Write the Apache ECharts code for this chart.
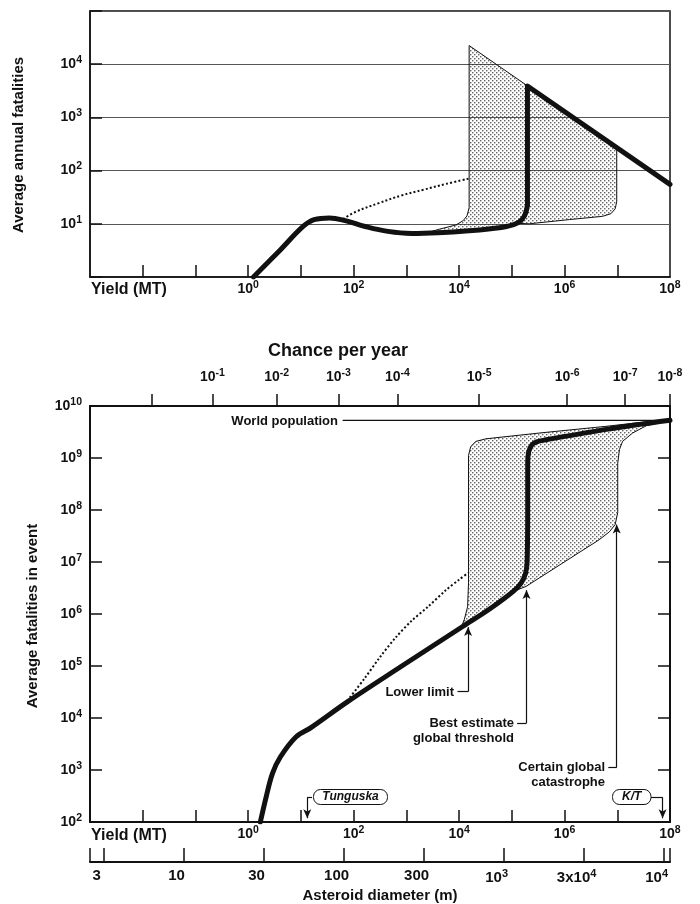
<!DOCTYPE html>
<html>
<head>
<meta charset="utf-8">
<script src="https://cdn.jsdelivr.net/npm/echarts/dist/echarts.min.js"></script>
<style>
  html, body { margin: 0; padding: 0; background: #ffffff; }
  #chart { width: 700px; height: 904px; }
</style>
</head>
<body>
<div id="chart"></div>
<script>
// ---------------- DATA (yield in MT, fatalities in persons) ----------------
// Top panel: average annual fatalities vs yield
const TOP_MAIN_CURVE = [[1.26,1.0],[3.98,3.16],[11.0,8.91],[17.8,12.0],[34.7,12.9],[69.2,11.5],[166,8.9],[447,7.2],[1260,6.6],[3980,6.8],[15500,7.4],[39800,8.1],[79400,8.9],[132000,10.5],[174000,14.1],[198000,22.4]];
const TOP_MAIN_STEP = [[198000,22.4],[198000,3890],[1e8,55]];
const TOP_DOTTED = [[63.1,12.3],[112,17.0],[302,24.5],[794,33.9],[2090,43.6],[5620,56.2],[15500,70.8]];
const TOP_SHADE = [[2510,6.8],[4170,7.9],[8710,9.5],[12000,11.5],[14100,14.1],[15500,20],[15500,22400],[200000,3890],[9.77e6,269],[9.77e6,26.3],[9.12e6,19.1],[7.59e6,15.5],[5.25e6,13.8],[1.23e6,12.0],[214000,10.0],[132000,10.2],[100000,8.9],[39800,8.1],[15500,7.4],[6310,6.9]];

// Bottom panel: average fatalities in event vs yield
const BOTTOM_MAIN = [[1.70,100],[2.19,302],[2.88,851],[4.07,1780],[8.13,4370],[15.8,6610],[75.9,20400],[794,97700],[11700,575000],[39800,1290000],[105000,2690000],[151000,3980000],[182000,6030000],[195000,1.0e7],[200000,1e8],[200000,7.94e8],[209000,1.32e9],[240000,1.78e9],[295000,2.04e9],[447000,2.24e9],[6.17e6,3.55e9],[1e8,5.3e9]];
const BOTTOM_DOTTED = [[75.9,21400],[158,56200],[316,148000],[631,355000],[1260,741000],[2510,1.35e6],[5620,2.88e6],[10000,4.57e6],[14800,6.17e6]];
const BOTTOM_SHADE = [[11000,550000],[12600,794000],[14500,1.38e6],[15100,3.98e6],[15100,1.12e9],[16600,1.66e9],[20900,2.09e9],[32400,2.34e9],[331000,3.02e9],[6.17e6,4.07e9],[4.68e7,5.13e9],[1e8,5.3e9],[3.55e7,4.17e9],[1.95e7,3.02e9],[1.26e7,2.09e9],[1.10e7,1.45e9],[1.02e7,7.94e8],[1.02e7,8.91e7],[9.12e6,5.25e7],[7.08e6,3.80e7],[4.57e6,2.69e7],[186000,3.39e6],[105000,2.69e6],[39800,1.29e6]];
const WORLD_POP = 5.3e9;
const WORLD_POP_START = 63;

// Axes
const YIELD_TICKS = [1e-2,1e-1,1,10,100,1e3,1e4,1e5,1e6,1e7];
const YIELD_LABELS = [1,100,1e4,1e6,1e8];
const CHANCE_TICK_YIELD = [0.0148,0.209,3.47,51.3,676,24000,1.12e6,1.41e7,1e8];
const CHANCE_EXPONENTS = ['','-1','-2','-3','-4','-5','-6','-7','-8'];
const DIAM_TICKS = [-0.17,0,1,2,3,4,5,6,7,7.08];
const DIAM_LABEL_POS = [0,1,2,3,4,5,6,7];
const DIAM_LABELS = ['3','10','30','100','300','10^3','3x10^4','10^4'];

// Annotation arrows (yield, fatalities)
const ARROW_LOWER = {bracket:[[9330,32000],[14800,32000]], arrow:[[14800,32000],[14800,5.6e5]]};
const ARROW_BEST = {bracket:[[126000,7940],[190000,7940]], arrow:[[190000,7940],[190000,2.88e6]]};
const ARROW_CERTAIN = {bracket:[[6.76e6,1120],[9.77e6,1120]], arrow:[[9.77e6,1120],[9.77e6,5.25e7]]};
const ARROW_TUNGUSKA = {bracket:[[16.3,299],[13.2,299]], arrow:[[13.2,299],[13.2,118]]};
const ARROW_KT = {bracket:[[4.27e7,299],[7.24e7,299]], arrow:[[7.24e7,299],[7.24e7,118]]};

// ---------------- STYLE ----------------
const FONT = "'Liberation Sans', Arial, Helvetica, sans-serif";
const INK = '#111111';

function stipple() {
  const c = document.createElement('canvas');
  c.width = 4; c.height = 4;
  const g = c.getContext('2d');
  g.fillStyle = '#2a2a2a';
  [[0.8,0.8],[2.8,2.8]].forEach(p => { g.beginPath(); g.arc(p[0], p[1], 0.68, 0, Math.PI*2); g.fill(); });
  return {image: c, repeat: 'repeat'};
}
const PATTERN = stipple();

const RICH = {
  b: {fontFamily: FONT, fontSize: 14, fontWeight: 'bold', color: INK},
  s: {fontFamily: FONT, fontSize: 10.5, fontWeight: 'bold', color: INK, padding: [0,0,8,0]}
};
const RICH_BIG = {
  b: {fontFamily: FONT, fontSize: 15, fontWeight: 'bold', color: INK},
  s: {fontFamily: FONT, fontSize: 11, fontWeight: 'bold', color: INK, padding: [0,0,8,0]}
};
function powText(e) { return '{b|10}{s|' + e + '}'; }
function exp10(v) { return Math.round(Math.log10(v)); }
function richFrom(str) {
  const i = str.indexOf('^');
  if (i < 0) return '{b|' + str + '}';
  return '{b|' + str.slice(0, i) + '}{s|' + str.slice(i + 1) + '}';
}

function shadeSeries(points, xi, yi) {
  return {
    type: 'custom', xAxisIndex: xi, yAxisIndex: yi, silent: true, z: 1,
    data: [points[0]],
    renderItem: function (params, api) {
      const pts = points.map(p => api.coord(p));
      return {type: 'polygon', shape: {points: pts},
        style: {fill: PATTERN, stroke: INK, lineWidth: 1}};
    }
  };
}
function lineSeries(data, xi, yi, width, opts) {
  return Object.assign({
    type: 'line', xAxisIndex: xi, yAxisIndex: yi, data: data, showSymbol: false, symbol: 'none',
    silent: true, z: 3, lineStyle: {color: INK, width: width, cap: 'round', join: 'round'}
  }, opts || {});
}
function arrowLines(a) {
  return [
    [{coord: a.bracket[0], symbol: 'none'}, {coord: a.bracket[1], symbol: 'none'}],
    [{coord: a.arrow[0], symbol: 'none'}, {coord: a.arrow[1], symbol: 'arrow'}]
  ];
}

const chart = echarts.init(document.getElementById('chart'));

function yieldAxis(grid) {
  return {
    type: 'log', logBase: 10, gridIndex: grid, min: 1e-3, max: 1e8, position: 'bottom',
    axisLine: {onZero: false, lineStyle: {color: INK, width: 1.5}},
    axisTick: {inside: true, length: 12, customValues: YIELD_TICKS, lineStyle: {color: INK, width: 1.5}},
    axisLabel: {customValues: YIELD_LABELS, margin: 3, rich: RICH, formatter: v => powText(exp10(v))},
    splitLine: {show: false}
  };
}

const option = {
  animation: false,
  backgroundColor: '#ffffff',
  grid: [
    {left: 90, top: 11, width: 580, height: 266, show: true, borderColor: INK, borderWidth: 1.5},
    {left: 90, top: 406, width: 580, height: 416, show: true, borderColor: INK, borderWidth: 2}
  ],
  xAxis: [
    yieldAxis(0),
    yieldAxis(1),
    { // chance per year (top of lower panel)
      type: 'log', logBase: 10, gridIndex: 1, min: 1e-3, max: 1e8, position: 'top',
      axisLine: {onZero: false, lineStyle: {color: INK, width: 2}},
      axisTick: {inside: false, length: 12, customValues: CHANCE_TICK_YIELD, lineStyle: {color: INK, width: 1.5}},
      axisLabel: {customValues: CHANCE_TICK_YIELD.slice(1), margin: 19, rich: RICH,
        formatter: v => {
          let best = 0, d = 1e9;
          CHANCE_TICK_YIELD.forEach((t, i) => { const dd = Math.abs(Math.log10(t) - Math.log10(v)); if (dd < d) { d = dd; best = i; } });
          return powText(CHANCE_EXPONENTS[best]);
        }},
      splitLine: {show: false}
    },
    { // asteroid diameter
      type: 'value', gridIndex: 1, min: -0.17, max: 7.08, position: 'bottom', offset: 40,
      axisLine: {onZero: false, lineStyle: {color: INK, width: 2}},
      axisTick: {inside: true, length: 14, customValues: DIAM_TICKS, lineStyle: {color: INK, width: 1.5}},
      axisLabel: {customValues: DIAM_LABEL_POS, margin: 6, rich: RICH_BIG, padding: [0, 14, 0, 0],
        formatter: v => richFrom(DIAM_LABELS[Math.round(v)])},
      splitLine: {show: false}
    }
  ],
  yAxis: [
    {
      type: 'log', logBase: 10, gridIndex: 0, min: 1, max: 1e5,
      axisLine: {onZero: false, lineStyle: {color: INK, width: 1.5}},
      axisTick: {inside: true, length: 12, lineStyle: {color: INK, width: 1.5}},
      axisLabel: {margin: 8, rich: RICH, formatter: v => { const e = exp10(v); return (e >= 1 && e <= 4) ? powText(e) : ''; }},
      splitLine: {show: true, lineStyle: {color: '#555', width: 1}}
    },
    {
      type: 'log', logBase: 10, gridIndex: 1, min: 100, max: 1e10,
      axisLine: {onZero: false, lineStyle: {color: INK, width: 2}},
      axisTick: {inside: true, length: 12, lineStyle: {color: INK, width: 1.5}},
      axisLabel: {margin: 8, rich: RICH, formatter: v => powText(exp10(v))},
      splitLine: {show: false}
    },
    {
      type: 'log', logBase: 10, gridIndex: 1, min: 100, max: 1e10, position: 'right',
      axisLine: {onZero: false, lineStyle: {color: INK, width: 1.5}},
      axisTick: {inside: true, length: 12, lineStyle: {color: INK, width: 1.5}},
      axisLabel: {show: false},
      splitLine: {show: false}
    }
  ],
  series: [
    shadeSeries(TOP_SHADE, 0, 0),
    lineSeries(TOP_DOTTED, 0, 0, 2, {smooth: 0.4, lineStyle: {color: INK, width: 2, type: [2, 2.2]}}),
    lineSeries(TOP_MAIN_CURVE, 0, 0, 5, {smooth: 0.4}),
    lineSeries(TOP_MAIN_STEP, 0, 0, 5),

    shadeSeries(BOTTOM_SHADE, 1, 1),
    lineSeries(BOTTOM_DOTTED, 1, 1, 2, {smooth: 0.3, lineStyle: {color: INK, width: 2, type: [2, 2.2]}}),
    lineSeries([[WORLD_POP_START, WORLD_POP], [1e8, WORLD_POP]], 1, 1, 1.2, {z: 2}),
    lineSeries(BOTTOM_MAIN, 1, 1, 5, {smooth: 0.35}),
    {
      type: 'line', xAxisIndex: 1, yAxisIndex: 1, data: [], silent: true,
      markLine: {
        silent: true, animation: false, symbolSize: [6, 9],
        label: {show: false},
        lineStyle: {type: 'solid', color: INK, width: 1.2},
        emphasis: {disabled: true},
        data: [].concat(arrowLines(ARROW_LOWER), arrowLines(ARROW_BEST), arrowLines(ARROW_CERTAIN),
                        arrowLines(ARROW_TUNGUSKA), arrowLines(ARROW_KT))
      }
    }
  ],
  graphic: {
    elements: [
      {type: 'text', x: 19, y: 145, rotation: Math.PI / 2, z: 100,
       style: {text: 'Average annual fatalities', font: 'bold 15px ' + FONT, fill: INK, align: 'center', verticalAlign: 'middle'}},
      {type: 'text', x: 33, y: 616, rotation: Math.PI / 2, z: 100,
       style: {text: 'Average fatalities in event', font: 'bold 15px ' + FONT, fill: INK, align: 'center', verticalAlign: 'middle'}},
      {type: 'text', x: 91, y: 290, z: 100,
       style: {text: 'Yield (MT)', font: 'bold 16px ' + FONT, fill: INK, align: 'left', verticalAlign: 'middle'}},
      {type: 'text', x: 91, y: 836, z: 100,
       style: {text: 'Yield (MT)', font: 'bold 16px ' + FONT, fill: INK, align: 'left', verticalAlign: 'middle'}},
      {type: 'text', x: 338, y: 351, z: 100,
       style: {text: 'Chance per year', font: 'bold 18px ' + FONT, fill: INK, align: 'center', verticalAlign: 'middle'}},
      {type: 'text', x: 380, y: 896, z: 100,
       style: {text: 'Asteroid diameter (m)', font: 'bold 15px ' + FONT, fill: INK, align: 'center', verticalAlign: 'middle'}},
      {type: 'text', x: 338, y: 421, z: 100,
       style: {text: 'World population', font: 'bold 13px ' + FONT, fill: INK, align: 'right', verticalAlign: 'middle'}},
      {type: 'text', x: 454, y: 692, z: 100,
       style: {text: 'Lower limit', font: 'bold 13px ' + FONT, fill: INK, align: 'right', verticalAlign: 'middle'}},
      {type: 'text', x: 514, y: 723, z: 100,
       style: {text: 'Best estimate', font: 'bold 13px ' + FONT, fill: INK, align: 'right', verticalAlign: 'middle'}},
      {type: 'text', x: 514, y: 738, z: 100,
       style: {text: 'global threshold', font: 'bold 13px ' + FONT, fill: INK, align: 'right', verticalAlign: 'middle'}},
      {type: 'text', x: 605, y: 767, z: 100,
       style: {text: 'Certain global', font: 'bold 13px ' + FONT, fill: INK, align: 'right', verticalAlign: 'middle'}},
      {type: 'text', x: 605, y: 782, z: 100,
       style: {text: 'catastrophe', font: 'bold 13px ' + FONT, fill: INK, align: 'right', verticalAlign: 'middle'}},
      {type: 'rect', z: 100, shape: {x: 313.5, y: 789.5, width: 74, height: 15, r: 7},
       style: {fill: '#fff', stroke: INK, lineWidth: 1}},
      {type: 'text', x: 350.5, y: 797, z: 101,
       style: {text: 'Tunguska', font: 'italic bold 12px ' + FONT, fill: INK, align: 'center', verticalAlign: 'middle'}},
      {type: 'rect', z: 100, shape: {x: 612.5, y: 789.5, width: 38.5, height: 15, r: 7},
       style: {fill: '#fff', stroke: INK, lineWidth: 1}},
      {type: 'text', x: 631.7, y: 797, z: 101,
       style: {text: 'K/T', font: 'italic bold 12px ' + FONT, fill: INK, align: 'center', verticalAlign: 'middle'}}
    ]
  }
};
chart.setOption(option);
</script>
</body>
</html>
